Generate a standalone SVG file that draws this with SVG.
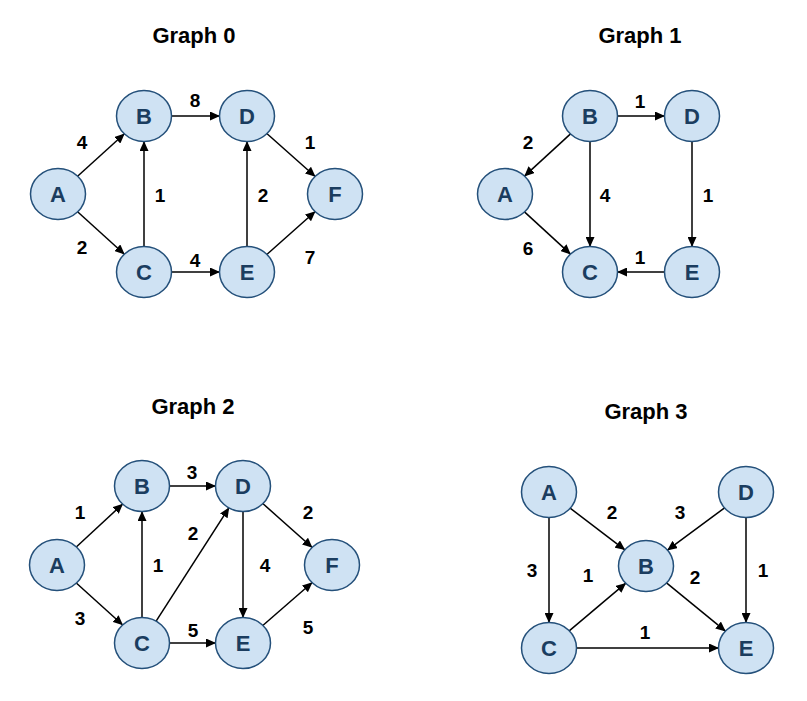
<svg xmlns="http://www.w3.org/2000/svg" width="807" height="701" viewBox="0 0 807 701">
<defs>
<marker id="arr" markerUnits="userSpaceOnUse" markerWidth="11" markerHeight="9" refX="10" refY="4.5" orient="auto">
<path d="M0,0 L10,4.5 L0,9 z" fill="#000"/>
</marker>
<style>
.title{font-family:"Liberation Sans",Arial,sans-serif;font-weight:bold;font-size:22px;fill:#000;text-anchor:middle}
.node ellipse{fill:#cfe2f3;stroke:#24507a;stroke-width:1.5}
.node text{font-family:"Liberation Sans",Arial,sans-serif;font-weight:bold;font-size:22px;fill:#1b3d5f;text-anchor:middle}
.edges line{stroke:#000;stroke-width:1.5;marker-end:url(#arr)}
.lbl{font-family:"Liberation Sans",Arial,sans-serif;font-weight:bold;font-size:19px;fill:#000;text-anchor:middle}
</style>
</defs>
<rect width="807" height="701" fill="#fff"/>

<text class="title" x="194" y="43">Graph 0</text>
<text class="title" x="640" y="43">Graph 1</text>
<text class="title" x="193" y="414">Graph 2</text>
<text class="title" x="646" y="419">Graph 3</text>

<g id="edges" class="edges">
<!-- Graph 0 -->
<line x1="77.3" y1="176.5" x2="124.7" y2="133.5"/>
<line x1="77.3" y1="211.5" x2="124.7" y2="254.5"/>
<line x1="171" y1="116" x2="220" y2="116"/>
<line x1="144" y1="247" x2="144" y2="141"/>
<line x1="171" y1="272" x2="220" y2="272"/>
<line x1="247" y1="247" x2="247" y2="141"/>
<line x1="266.5" y1="133.3" x2="315.5" y2="176.7"/>
<line x1="266.5" y1="254.7" x2="315.5" y2="211.3"/>
<!-- Graph 1 -->
<line x1="617" y1="116" x2="665" y2="116"/>
<line x1="570.8" y1="133.6" x2="524.2" y2="176.4"/>
<line x1="590" y1="141" x2="590" y2="247"/>
<line x1="524.2" y1="211.6" x2="570.8" y2="254.4"/>
<line x1="692" y1="141" x2="692" y2="247"/>
<line x1="665" y1="272" x2="617" y2="272"/>
<!-- Graph 2 -->
<line x1="76" y1="547.3" x2="123" y2="503.7"/>
<line x1="76" y1="582.7" x2="123" y2="625.3"/>
<line x1="169" y1="486" x2="216" y2="486"/>
<line x1="142" y1="618" x2="142" y2="511"/>
<line x1="155.8" y1="621.6" x2="229.2" y2="507.4"/>
<line x1="243" y1="511" x2="243" y2="618"/>
<line x1="169" y1="643" x2="216" y2="643"/>
<line x1="262.5" y1="503.3" x2="312.5" y2="547.7"/>
<line x1="262.5" y1="625.7" x2="312.5" y2="582.3"/>
<!-- Graph 3 -->
<line x1="549" y1="517" x2="549" y2="623"/>
<line x1="569.8" y1="507.9" x2="625.2" y2="550.1"/>
<line x1="724.9" y1="507.6" x2="667.1" y2="550.4"/>
<line x1="746" y1="517" x2="746" y2="623"/>
<line x1="568.9" y1="631.1" x2="626.1" y2="582.9"/>
<line x1="666.2" y1="582.6" x2="725.8" y2="631.4"/>
<line x1="576" y1="648" x2="719" y2="648"/>
</g>

<g id="edge-labels">
<text class="lbl" x="82" y="149">4</text>
<text class="lbl" x="82" y="254">2</text>
<text class="lbl" x="195" y="107">8</text>
<text class="lbl" x="160" y="202">1</text>
<text class="lbl" x="263" y="202">2</text>
<text class="lbl" x="310" y="149">1</text>
<text class="lbl" x="310" y="264">7</text>
<text class="lbl" x="195" y="267">4</text>

<text class="lbl" x="528" y="149">2</text>
<text class="lbl" x="640" y="108">1</text>
<text class="lbl" x="605" y="202">4</text>
<text class="lbl" x="708" y="202">1</text>
<text class="lbl" x="528" y="255">6</text>
<text class="lbl" x="640" y="264">1</text>

<text class="lbl" x="80" y="519">1</text>
<text class="lbl" x="192" y="479">3</text>
<text class="lbl" x="308" y="519">2</text>
<text class="lbl" x="193" y="540">2</text>
<text class="lbl" x="158" y="572">1</text>
<text class="lbl" x="265" y="572">4</text>
<text class="lbl" x="80" y="625">3</text>
<text class="lbl" x="193" y="637">5</text>
<text class="lbl" x="308" y="634">5</text>

<text class="lbl" x="612" y="519">2</text>
<text class="lbl" x="680" y="519">3</text>
<text class="lbl" x="532" y="577">3</text>
<text class="lbl" x="588" y="582">1</text>
<text class="lbl" x="695" y="584">2</text>
<text class="lbl" x="763" y="577">1</text>
<text class="lbl" x="645" y="639">1</text>
</g>

<!-- Graph 0 nodes -->
<g id="g0-A" class="node"><ellipse cx="58" cy="194" rx="27.5" ry="25.5"/><text x="58" y="202">A</text></g>
<g id="g0-B" class="node"><ellipse cx="144" cy="116" rx="27.5" ry="25.5"/><text x="144" y="124">B</text></g>
<g id="g0-D" class="node"><ellipse cx="247" cy="116" rx="27.5" ry="25.5"/><text x="247" y="124">D</text></g>
<g id="g0-F" class="node"><ellipse cx="335" cy="194" rx="27.5" ry="25.5"/><text x="335" y="202">F</text></g>
<g id="g0-C" class="node"><ellipse cx="144" cy="272" rx="27.5" ry="25.5"/><text x="144" y="280">C</text></g>
<g id="g0-E" class="node"><ellipse cx="247" cy="272" rx="27.5" ry="25.5"/><text x="247" y="280">E</text></g>
<!-- Graph 1 nodes -->
<g id="g1-B" class="node"><ellipse cx="590" cy="116" rx="27.5" ry="25.5"/><text x="590" y="124">B</text></g>
<g id="g1-D" class="node"><ellipse cx="692" cy="116" rx="27.5" ry="25.5"/><text x="692" y="124">D</text></g>
<g id="g1-A" class="node"><ellipse cx="505" cy="194" rx="27.5" ry="25.5"/><text x="505" y="202">A</text></g>
<g id="g1-C" class="node"><ellipse cx="590" cy="272" rx="27.5" ry="25.5"/><text x="590" y="280">C</text></g>
<g id="g1-E" class="node"><ellipse cx="692" cy="272" rx="27.5" ry="25.5"/><text x="692" y="280">E</text></g>
<!-- Graph 2 nodes -->
<g id="g2-A" class="node"><ellipse cx="57" cy="565" rx="27.5" ry="25.5"/><text x="57" y="573">A</text></g>
<g id="g2-B" class="node"><ellipse cx="142" cy="486" rx="27.5" ry="25.5"/><text x="142" y="494">B</text></g>
<g id="g2-D" class="node"><ellipse cx="243" cy="486" rx="27.5" ry="25.5"/><text x="243" y="494">D</text></g>
<g id="g2-F" class="node"><ellipse cx="332" cy="565" rx="27.5" ry="25.5"/><text x="332" y="573">F</text></g>
<g id="g2-C" class="node"><ellipse cx="142" cy="643" rx="27.5" ry="25.5"/><text x="142" y="651">C</text></g>
<g id="g2-E" class="node"><ellipse cx="243" cy="643" rx="27.5" ry="25.5"/><text x="243" y="651">E</text></g>
<!-- Graph 3 nodes -->
<g id="g3-A" class="node"><ellipse cx="549" cy="492" rx="27.5" ry="25.5"/><text x="549" y="500">A</text></g>
<g id="g3-D" class="node"><ellipse cx="746" cy="492" rx="27.5" ry="25.5"/><text x="746" y="500">D</text></g>
<g id="g3-B" class="node"><ellipse cx="646" cy="566" rx="27.5" ry="25.5"/><text x="646" y="574">B</text></g>
<g id="g3-C" class="node"><ellipse cx="549" cy="648" rx="27.5" ry="25.5"/><text x="549" y="656">C</text></g>
<g id="g3-E" class="node"><ellipse cx="746" cy="648" rx="27.5" ry="25.5"/><text x="746" y="656">E</text></g>
</svg>
